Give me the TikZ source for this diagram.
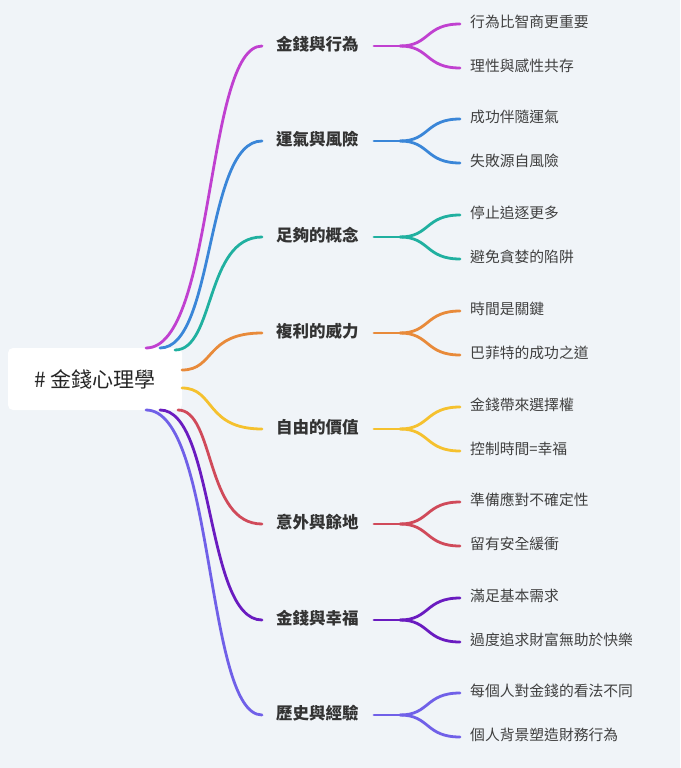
\documentclass[tikz,border=0pt]{standalone}
\usepackage{fontspec}
\setmainfont{Noto Sans CJK TC}
\begin{document}
\begin{tikzpicture}[x=1pt,y=-1pt,
  br/.style={font=\fontsize{16.5}{19}\selectfont\bfseries, text=black!80, anchor=west, inner sep=0pt},
  lf/.style={font=\fontsize{14.8}{17}\selectfont, text=black!75, anchor=west, inner sep=0pt},
  ln/.style={line width=2.8pt, line cap=round}]
\fill[fill={rgb,255:red,240;green,244;blue,248}] (0,0) rectangle (680,768);
\useasboundingbox (0,0) rectangle (680,768);
\node[fill=white, rounded corners=5pt, minimum width=174pt, minimum height=62pt, font=\fontsize{21}{25}\selectfont, text=black!85] (root) at (95,379) {\# 金錢心理學};
\definecolor{c1}{RGB}{192,64,208}
\definecolor{c2}{RGB}{58,134,216}
\definecolor{c3}{RGB}{32,176,160}
\definecolor{c4}{RGB}{232,138,58}
\definecolor{c5}{RGB}{245,193,46}
\definecolor{c6}{RGB}{208,74,90}
\definecolor{c7}{RGB}{106,27,192}
\definecolor{c8}{RGB}{112,96,232}
\foreach \i/\y/\c/\sx/\sy/\b/\la/\lb in {
 1/44/c1/146/348/金錢與行為/行為比智商更重要/理性與感性共存,
 2/139/c2/160/348/運氣與風險/成功伴隨運氣/失敗源自風險,
 3/235/c3/175/350/足夠的概念/停止追逐更多/避免貪婪的陷阱,
 4/331/c4/182/370/複利的威力/時間是關鍵/巴菲特的成功之道,
 5/427/c5/182/388/自由的價值/金錢帶來選擇權/控制時間=幸福,
 6/522/c6/178/410/意外與餘地/準備應對不確定性/留有安全緩衝,
 7/618/c7/160/410/金錢與幸福/滿足基本需求/過度追求財富無助於快樂,
 8/713/c8/146/410/歷史與經驗/每個人對金錢的看法不同/個人背景塑造財務行為}{
  \coordinate (s\i) at (\sx,\sy);
  \coordinate (e\i) at (262,\y+2);
  \node[br] (b\i) at (276,\y) {\b};
  \coordinate (m\i) at (400,\y+2);
  \coordinate (f\i) at (374,\y+2);
  \coordinate (ua\i) at (460,\y-20);
  \coordinate (ub\i) at (460,\y+24);
  \node[lf] (la\i) at (470,\y-22) {\la};
  \node[lf] (lb\i) at (470,\y+22) {\lb};
  \draw[ln,\c] (s\i) .. controls (215,\sy) and (205,\y+2) .. (e\i);
  \draw[ln,\c] (f\i) -- (m\i);
  \draw[ln,\c] (m\i) .. controls (430,\y+2) and (425,\y-20) .. (ua\i);
  \draw[ln,\c] (m\i) .. controls (430,\y+2) and (425,\y+24) .. (ub\i);
}
\end{tikzpicture}
\end{document}
